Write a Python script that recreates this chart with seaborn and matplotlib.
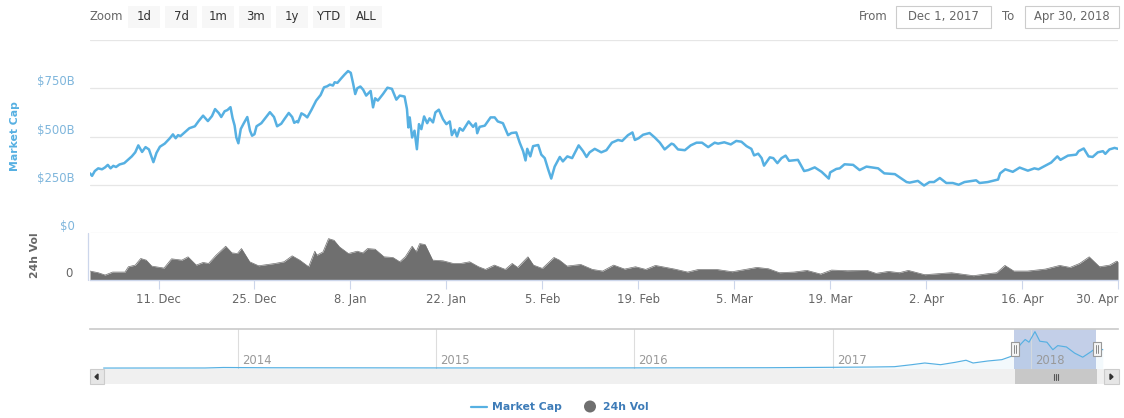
import pandas as pd
import matplotlib
matplotlib.use("Agg")
import matplotlib.dates as mdates
import matplotlib.pyplot as plt
import seaborn as sns
from matplotlib.patches import Rectangle, Circle

W, H = 1124, 418

# Market cap in $B, day = days since 1 Dec 2017
cap_days = [0, .3, .7, 1.2, 1.75, 2.2, 2.6, 3, 3.4, 3.8, 4.3, 5, 5.5, 6.1, 6.6, 7.05, 7.6, 8.1, 8.6, 8.95, 9.25, 9.7,
            10.2, 10.9, 11.6, 12.1, 12.5, 12.85, 13.2, 13.8, 14.5, 15.3, 15.85, 16.5, 17.2, 17.8, 18.25, 18.8, 19.15,
            19.65, 20.05, 20.5, 20.8, 21.1, 21.35, 21.65, 22, 22.4, 22.95, 23.35, 23.65, 24, 24.3, 25, 25.5, 26.25,
            26.85, 27.3, 27.9, 28.4, 29, 29.5, 29.8, 30.25,
            30.35, 30.85, 31.3, 31.7, 32.3, 33, 33.65, 34.15, 34.6, 35, 35.45, 35.7, 36.1, 36.6, 37.15, 37.65, 38.05,
            38.4, 38.7, 39, 39.45, 39.85, 40.3, 40.95, 41.3, 41.6, 42, 42.75, 43.4, 44.05, 44.7, 45.2, 45.9, 46.25,
            46.45, 46.65, 47, 47.35, 47.7, 48, 48.35, 48.75, 49.2, 49.55, 50.05, 50.4, 50.9, 51.5, 52, 52.5, 52.8,
            53.2, 53.55, 53.95, 54.4, 55.25, 55.9, 56.3, 56.5, 56.85, 57.6, 58.45, 59.05, 59.5, 60.25, 61,
            61.5, 62.2, 62.7, 63.2, 63.55, 63.8, 64.25, 64.65, 65.4, 65.85, 66.35, 66.85, 67.3, 67.8, 68.55, 69,
            69.65, 70.35, 71.3, 71.95, 72.45, 72.9, 73.65, 74.6, 75.35, 76.15, 77.05, 77.65, 78.5, 79.15, 79.5,
            80.05, 80.7, 81.65, 82.4, 83.15, 83.85, 84.85, 85.15, 85.8, 86.8, 87.65, 88.5, 89.3, 90.2, 91.15, 91.65,
            92.55, 93.5, 94.3, 95.05, 95.8, 96.5, 96.9, 97.5, 98, 98.35, 99.2, 99.7, 100.3, 100.9, 101.5, 102,
            103.3, 104.2, 104.8, 105.75, 106.75, 107.8, 108, 108.9, 109.4, 110.1, 111.35, 112.3, 113.3, 115, 115.9,
            117.45, 119.15, 119.6,
            120.8, 121.7, 122.5, 123.15, 124, 124.95, 125.9, 126.75, 127.6, 129.3, 129.8, 131, 132.5, 132.8, 133.55,
            134.65, 135.65, 136.85, 137.8, 138.4, 140.25, 141.15, 141.6, 142.7, 143.9, 144.25, 145, 145.7, 146.3,
            147.05, 147.8, 148.15, 148.75, 149.5, 150]
cap_vals = [309, 296, 321, 335, 330, 340, 353, 335, 348, 342, 355, 362, 378, 397, 418, 454, 420, 445, 433, 397, 367, 415,
            447, 463, 489, 511, 491, 507, 502, 521, 543, 553, 580, 608, 580, 606, 642, 621, 601,
            631, 637, 652, 596, 557, 495, 465, 539, 566, 601, 530, 504, 512, 553, 569, 592, 626,
            601, 553, 566, 592, 622, 601, 571, 580,
            573, 620, 611, 599, 637, 686, 715, 755, 760, 769, 764, 781, 778, 799, 821, 839, 830,
            773, 720, 750, 759, 743, 712, 736, 651, 698, 686, 720, 753, 747, 691, 712, 707, 642,
            547, 599, 495, 530, 434, 564, 538, 604, 569, 594, 573, 625, 639, 590, 564, 578, 507,
            535, 500, 543, 530, 578, 550, 568, 517, 550, 556, 599, 599, 578, 569, 507,
            518, 521, 468, 424, 376, 436, 397, 450, 456, 406, 388, 330, 282, 344, 394, 371,
            397, 388, 454, 424, 394, 418, 436, 418, 429, 468, 482, 477, 507, 521, 482,
            491, 509, 518, 495, 468, 433, 463, 459, 433, 429, 454, 468, 468, 445, 468, 463,
            470, 459, 477, 473, 450, 436, 402, 411, 388, 349, 392, 388, 362, 388, 401, 374,
            379, 321, 326, 340, 317, 282, 314, 332, 335, 356, 353, 326, 344, 335, 309,
            305, 264, 261,
            270, 246, 264, 264, 285, 259, 259, 250, 264, 273, 259, 264, 277, 309, 330,
            317, 339, 323, 335, 330, 365, 397, 379, 401, 406, 424, 438, 397, 394,
            418, 424, 410, 433, 441, 436]

# 24h volume in $B
vol_days = [0, 1.2, 2.2, 3.3, 5.1, 5.6, 6.6, 7.4, 8.2, 9, 10.8, 11.9, 13.4, 14.3, 15.5, 16.5, 17.3, 18.4, 19.8,
            20.7, 21.5, 22.1, 23.3, 24.6, 27, 28.3, 29.5, 30.6, 31.9, 32.8, 33.1, 34, 34.8, 35.6, 36.4, 37.7, 39,
            39.8, 40.5, 41.6, 42.9, 44.2, 45.2, 46, 47, 47.6, 48.1, 48.9, 50, 51.5, 53, 54.1, 55.4, 56.7, 57.7,
            59, 60.6, 61.6, 62.4, 63.9, 64.7, 66, 67.7, 68.5, 69.6, 71.6, 73.3, 74.8, 76.4, 78, 79.6, 81.1, 82.5,
            85.3, 87.2, 88.8, 91.4, 93.7, 97.3, 99, 100.6, 102.7, 104.6, 106.6, 108.2, 110.5, 113.4, 114.7, 116.5,
            118.1, 119.4, 121.8, 125.7, 128.9, 131, 132.3, 133.5, 134.8, 136.8, 139.4, 141.5, 143, 144.4, 145.8,
            147.3, 148.8, 149.8, 150]
vol_vals = [13.5, 11, 7.5, 12, 12, 20, 22.5, 32.5, 30, 21, 18, 32, 30, 35, 22.5, 26.5, 25, 37.5, 51,
            41, 40, 47.5, 27.5, 21.5, 25, 27.5, 36.5, 30, 20, 43.5, 37.5, 42.5, 62.5, 60, 50, 40, 43.5,
            41, 47.5, 46.5, 35, 34, 27.5, 35, 51, 42.5, 55, 53.5, 30, 29, 25, 25, 27.5, 20, 16,
            22.5, 16, 25, 19, 35, 22.5, 17.5, 34, 30, 21, 23.5, 16, 13.5, 22.5, 16.5, 20, 16, 22,
            16.5, 12, 16, 16, 12.5, 19, 17, 11, 12, 14.5, 9, 15, 14, 14.5, 10, 13,
            11, 14.5, 8, 11, 6.5, 9.5, 11, 22, 13.5, 13.5, 16.5, 22, 19, 25, 35,
            20, 22.5, 28.5, 27.5]

# navigator series, all history at a much coarser resolution
nav_dates = ["2013-04-28", "2013-11-01", "2013-12-05", "2014-03-01", "2014-09-01", "2015-03-01", "2015-09-01",
             "2016-03-01", "2016-09-01", "2017-01-01", "2017-03-15", "2017-04-24", "2017-05-26", "2017-06-19",
             "2017-07-18", "2017-08-14", "2017-09-03", "2017-09-16", "2017-10-13", "2017-11-08", "2017-11-26",
             "2017-12-01", "2017-12-12", "2017-12-21", "2017-12-28", "2018-01-08", "2018-01-17", "2018-01-30",
             "2018-02-10", "2018-02-19", "2018-03-07", "2018-03-22", "2018-04-06", "2018-04-22", "2018-04-30",
             "2018-05-05", "2018-05-13"]
nav_vals = [1.5, 3, 14, 8, 6, 3.5, 3.5, 6, 9, 18, 25, 32, 77, 115,
            77, 130, 177, 115, 160, 190, 268,
            299, 529, 644, 583, 820, 605, 583,
            414, 506, 476, 338, 246, 375, 453,
            445, 414]

tick_dates = ["2017-12-11", "2017-12-25", "2018-01-08", "2018-01-22", "2018-02-05", "2018-02-19",
              "2018-03-05", "2018-03-19", "2018-04-02", "2018-04-16", "2018-04-30"]
tick_labels = ["11. Dec", "25. Dec", "8. Jan", "22. Jan", "5. Feb", "19. Feb",
               "5. Mar", "19. Mar", "2. Apr", "16. Apr", "30. Apr"]
cap_ticks = [0, 250, 500, 750, 1000]
cap_tick_labels = ["$0", "$250B", "$500B", "$750B", ""]
year_ticks = ["2014-01-01", "2015-01-01", "2016-01-01", "2017-01-01", "2018-01-01"]
year_labels = ["2014", "2015", "2016", "2017", "2018"]
zoom_buttons = ["1d", "7d", "1m", "3m", "1y", "YTD", "ALL"]

LINE = "#56b0e2"
VOL = "#6f6f6f"
GRID = "#e6e6e6"
AXIS = "#ccd6eb"
FS = 8.4

sns.set_theme(style="white")
plt.rcParams["font.family"] = ["DejaVu Sans"]

start = pd.Timestamp("2017-12-01")
end = pd.Timestamp("2018-04-30")
cap = pd.DataFrame({"date": start + pd.to_timedelta(cap_days, unit="D"), "value": cap_vals})
vol = pd.DataFrame({"date": start + pd.to_timedelta(vol_days, unit="D"), "value": vol_vals})
nav = pd.DataFrame({"date": pd.to_datetime(nav_dates), "value": nav_vals})

fig = plt.figure(figsize=(W / 100, H / 100), dpi=100, facecolor="white")


def axes_px(left, top, right, bottom):
    return fig.add_axes([left / W, 1 - bottom / H, (right - left) / W, (bottom - top) / H])


# main chart
ax = axes_px(90, 40, 1118, 233)
sns.lineplot(data=cap, x="date", y="value", color=LINE, linewidth=1.8, estimator=None, sort=False, ax=ax)
ax.set_xlim(start, end)
ax.set_ylim(0, 1000)
ax.set_yticks(cap_ticks)
ax.set_yticklabels(cap_tick_labels, va="bottom", color="#7fb6dc", fontsize=FS)
ax.set_xticks([])
ax.set_xlabel("")
ax.set_ylabel("")
ax.tick_params(axis="y", length=0, pad=10.8)
ax.grid(axis="y", color=GRID, linewidth=0.9)
ax.set_axisbelow(True)
sns.despine(ax=ax, left=True, bottom=True)

# volume panel
ax2 = axes_px(90, 233, 1118, 280)
sns.lineplot(data=vol, x="date", y="value", color=VOL, linewidth=0.5, estimator=None, sort=False, ax=ax2)
ax2.fill_between(vol["date"], vol["value"], color=VOL, linewidth=0)
ax2.set_xlim(start, end)
ax2.set_ylim(0, 71)
ax2.set_yticks([0])
ax2.set_yticklabels(["0"], va="bottom", color="#666666", fontsize=FS)
ax2.tick_params(axis="y", length=0, pad=12.6)
ax2.set_xticks(pd.to_datetime(tick_dates))
ax2.set_xticklabels(tick_labels, color="#666666", fontsize=FS)
ax2.tick_params(axis="x", length=6.5, width=0.8, color=AXIS, pad=3, bottom=True)
ax2.get_xticklabels()[-1].set_ha("right")
ax2.set_xlabel("")
ax2.set_ylabel("")
sns.despine(ax=ax2, left=True)
ax2.spines["bottom"].set_color(AXIS)
ax2.spines["bottom"].set_linewidth(1.0)

# navigator
ax3 = axes_px(90, 329, 1118, 369)
ax3.set_xlim(pd.Timestamp("2013-04-03"), pd.Timestamp("2018-06-10"))
ax3.set_ylim(-20, 880)
ax3.add_patch(Rectangle((mdates.date2num(start), -20), mdates.date2num(end) - mdates.date2num(start), 900,
                        facecolor="#c3cfe8", edgecolor="none", zorder=1))
ax3.fill_between(nav["date"], nav["value"], -20, color=LINE, alpha=0.07, linewidth=0, zorder=2)
sns.lineplot(data=nav, x="date", y="value", color=LINE, linewidth=0.85, estimator=None, sort=False, ax=ax3, zorder=3)
for d, label in zip(year_ticks, year_labels):
    ax3.axvline(pd.Timestamp(d), color="#dddddd", linewidth=0.8, zorder=1.5)
    ax3.annotate(label, (pd.Timestamp(d), 0), xytext=(3, 0.5), textcoords="offset points",
                 color="#999999", fontsize=FS, va="bottom", zorder=2.5)
ax3.set_xticks([])
ax3.set_yticks([])
ax3.set_xlabel("")
ax3.set_ylabel("")
sns.despine(ax=ax3, left=True, bottom=True, right=True, top=False)
ax3.spines["top"].set_color("#cccccc")

# everything around the plots, drawn in pixels
ov = fig.add_axes([0, 0, 1, 1], zorder=10)
ov.set_xlim(0, W)
ov.set_ylim(H, 0)
ov.axis("off")


def box(x0, y0, x1, y1, fc, ec="none", lw=0.8, z=2):
    ov.add_patch(Rectangle((x0, y0), x1 - x0, y1 - y0, facecolor=fc, edgecolor=ec, linewidth=lw, zorder=z))


ov.plot([88, 88], [233, 280], color=AXIS, linewidth=0.9)
ov.text(15, 136, "Market Cap", rotation=90, color=LINE, fontweight="bold", fontsize=7.8, ha="center", va="center")
ov.text(35, 255, "24h Vol", rotation=90, color="#666666", fontweight="bold", fontsize=7.8, ha="center", va="center")

# range selector
ov.text(90, 17, "Zoom", color="#666666", fontsize=FS, va="center")
for i, label in enumerate(zoom_buttons):
    x0 = 128 + i * 37
    box(x0, 6, x0 + 32, 28, "#f7f7f7")
    ov.text(x0 + 16, 16.5, label, color="#333333", fontsize=FS, ha="center", va="center")
ov.text(859, 16.5, "From", color="#666666", fontsize=FS, va="center")
box(896, 6, 990.5, 28, "white", "#cccccc")
ov.text(943, 16.5, "Dec 1, 2017", color="#666666", fontsize=FS, ha="center", va="center")
ov.text(1002, 16.5, "To", color="#666666", fontsize=FS, va="center")
box(1025, 6, 1119, 28, "white", "#cccccc")
ov.text(1072, 16.5, "Apr 30, 2018", color="#666666", fontsize=FS, ha="center", va="center")

# scrollbar
box(104, 369, 1104, 384, "#f0f0f0")
box(1015, 369, 1097, 384, "#c8c8c8")
for x in [1054, 1056, 1058]:
    ov.plot([x, x], [373.5, 379.5], color="#555555", linewidth=0.8, zorder=3)
box(89.5, 369, 104, 384, "#e6e6e6", "#cccccc")
box(1104, 369, 1118.5, 384, "#e6e6e6", "#cccccc")
ov.fill([98, 98, 95], [374, 379.5, 376.8], color="#333333", zorder=3)
ov.fill([1110, 1110, 1113], [374, 379.5, 376.8], color="#333333", zorder=3)

# navigator handles
for x in [1015, 1097]:
    box(x - 4, 342, x + 4, 356, "#f5f5f5", "#999999", z=4)
    ov.plot([x - 1.2, x - 1.2], [345, 353], color="#888888", linewidth=0.7, zorder=5)
    ov.plot([x + 1.2, x + 1.2], [345, 353], color="#888888", linewidth=0.7, zorder=5)

# legend
ov.plot([471, 487], [406.5, 406.5], color=LINE, linewidth=1.6)
ov.text(492, 407, "Market Cap", color="#3e7cb8", fontweight="bold", fontsize=7.8, va="center")
ov.add_patch(Circle((590, 406.5), 6, facecolor=VOL, edgecolor="none"))
ov.text(603, 407, "24h Vol", color="#3e7cb8", fontweight="bold", fontsize=7.8, va="center")

fig.savefig("out.png", dpi=100)
